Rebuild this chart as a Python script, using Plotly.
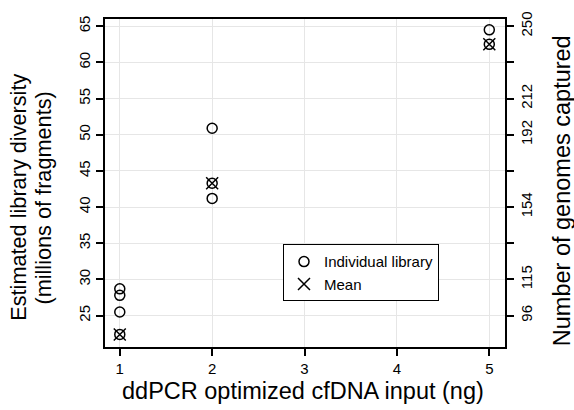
import plotly.graph_objects as go

# Data
ind_x = [1, 1, 1, 1, 2, 2, 2, 5, 5]
ind_y = [28.7, 27.8, 25.5, 22.4, 50.9, 43.3, 41.2, 64.5, 62.5]
mean_x = [1, 2, 5]
mean_y = [22.4, 43.3, 62.5]

x_ticks = [1, 2, 3, 4, 5]
y_ticks = [25, 30, 35, 40, 45, 50, 55, 60, 65]
right_tick_text = ["96", "115", "", "154", "", "192", "212", "", "250"]

FONT = "Liberation Sans, Arial, Helvetica, sans-serif"

fig = go.Figure()
fig.add_trace(go.Scatter(
    x=ind_x, y=ind_y, mode="markers", name="Individual library",
    marker=dict(symbol="circle-open", size=10, color="black", line=dict(width=1.5, color="black")),
))
fig.add_trace(go.Scatter(
    x=mean_x, y=mean_y, mode="markers", name="Mean",
    marker=dict(symbol="x-thin-open", size=12, color="black", line=dict(width=1.5, color="black")),
))
# invisible trace to activate the right axis
fig.add_trace(go.Scatter(x=mean_x, y=mean_y, yaxis="y2", mode="markers",
                         marker=dict(opacity=0), showlegend=False, hoverinfo="skip"))

yr = [20.66, 66.0]
fig.update_layout(
    width=574, height=410,
    margin=dict(l=105, r=69, t=12, b=63),
    paper_bgcolor="white", plot_bgcolor="white",
    font=dict(family=FONT, color="black", size=15),
    showlegend=True,
    legend=dict(x=0.445, y=0.313, xanchor="left", yanchor="top",
                bordercolor="black", borderwidth=1, bgcolor="white",
                font=dict(size=15, family=FONT), itemwidth=30,
                tracegroupgap=0),
    xaxis=dict(range=[0.84, 5.17], tickvals=x_ticks, showgrid=True, gridcolor="#e6e6e6",
               gridwidth=1, zeroline=False, showline=True, linecolor="black", linewidth=2,
               mirror=True, ticks="outside", ticklen=7, tickwidth=2, tickcolor="black",
               tickfont=dict(size=15)),
    yaxis=dict(range=yr, tickvals=y_ticks, showgrid=True, gridcolor="#e6e6e6",
               gridwidth=1, zeroline=False, showline=True, linecolor="black", linewidth=2,
               mirror=True, ticks="outside", ticklen=7, tickwidth=2, tickcolor="black",
               tickangle=-90, tickfont=dict(size=15)),
    yaxis2=dict(range=yr, overlaying="y", side="right", tickvals=y_ticks,
                ticktext=right_tick_text, showgrid=False, zeroline=False,
                showline=True, linecolor="black", linewidth=2, ticks="outside",
                ticklen=7, tickwidth=2, tickcolor="black", tickangle=-90,
                tickfont=dict(size=15)),
    annotations=[
        dict(text="Estimated library diversity", xref="paper", yref="paper",
             x=-0.215, y=0.455, textangle=-90, showarrow=False,
             xanchor="center", yanchor="middle", font=dict(size=21.7)),
        dict(text="(millions of fragments)", xref="paper", yref="paper",
             x=-0.153, y=0.455, textangle=-90, showarrow=False,
             xanchor="center", yanchor="middle", font=dict(size=21.7)),
        dict(text="Number of genomes captured", xref="paper", yref="paper",
             x=1.1425, y=0.475, textangle=-90, showarrow=False,
             xanchor="center", yanchor="middle", font=dict(size=23.5)),
        dict(text="ddPCR optimized cfDNA input (ng)", xref="paper", yref="paper",
             x=0.495, y=-0.135, showarrow=False,
             xanchor="center", yanchor="middle", font=dict(size=23.5)),
    ],
)

fig.write_html("out.html")
